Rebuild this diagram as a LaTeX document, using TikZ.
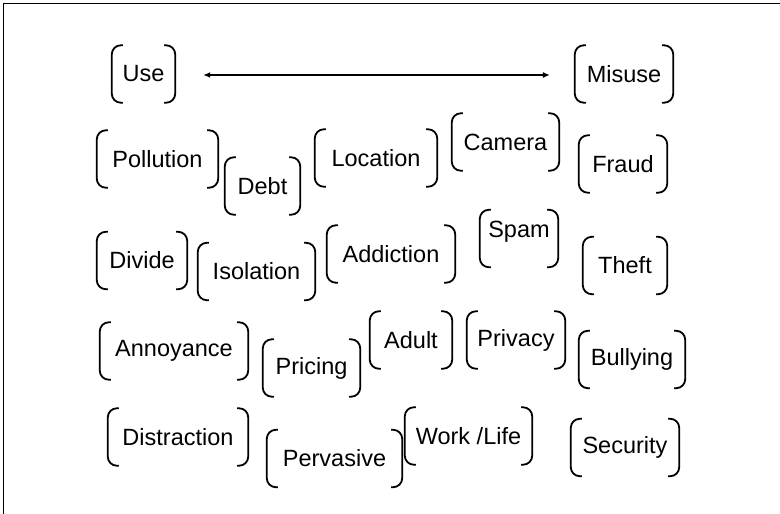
\documentclass[tikz,border=0pt]{standalone}
\usepackage{fontspec}
\setmainfont{Liberation Sans}
\usetikzlibrary{arrows.meta}

\tikzset{
    item/.style={inner sep=0pt, minimum height=57pt, font=\fontsize{23.5}{28}\selectfont},
    brk/.style={line width=1.8pt, rounded corners=9pt},
}

\begin{document}
\begin{tikzpicture}[x=1pt, y=-1pt]
            \useasboundingbox (0,0) rectangle (780,514);
            \draw[line width=1.6pt] (3.5,530) -- (3.5,3.5) -- (795,3.5);

            \node[item, minimum width=63pt] (use) at (143.5,74) {Use};
            \node[item, minimum width=98pt] (misuse) at (624,74) {Misuse};

            \node[item, minimum width=121pt] (pollution) at (157.5,159) {Pollution};
            \node[item, minimum width=75pt] (debt) at (262.5,186) {Debt};
            \node[item, minimum width=122pt] (location) at (376,158) {Location};
            \node[item, minimum width=107pt] (camera) at (505.5,142) {Camera};
            \node[item, minimum width=88pt] (fraud) at (623,164) {Fraud};

            \node[item, minimum width=90pt] (divide) at (142,260.5) {Divide};
            \node[item, minimum width=117pt] (isolation) at (256.5,271.5) {Isolation};
            \node[item, minimum width=128pt] (addiction) at (391,254) {Addiction};
            \node[item, minimum width=78pt, text depth=19pt] (spam) at (519,238.5) {Spam};
            \node[item, minimum width=84pt] (theft) at (625,265.5) {Theft};

            \node[item, minimum width=148pt] (annoyance) at (174,351) {Annoyance};
            \node[item, minimum width=97pt] (pricing) at (311.5,368) {Pricing};
            \node[item, minimum width=82pt] (adult) at (411,340) {Adult};
            \node[item, minimum width=98pt] (privacy) at (516,340) {Privacy};
            \node[item, minimum width=106pt] (bullying) at (632,359.5) {Bullying};

            \node[item, minimum width=140pt] (distraction) at (178,437) {Distraction};
            \node[item, minimum width=135pt] (pervasive) at (334.5,458.5) {Pervasive};
            \node[item, minimum width=127pt] (worklife) at (468.5,436) {Work /Life};
            \node[item, minimum width=108pt] (security) at (625,447.5) {Security};

            \foreach \n in {use,misuse,pollution,debt,location,camera,fraud,divide,isolation,addiction,spam,theft,annoyance,pricing,adult,privacy,bullying,distraction,pervasive,worklife,security} {
                \draw[brk] ([xshift=11pt]\n.north west) -- (\n.north west) -- (\n.south west) -- ([xshift=11pt]\n.south west);
                \draw[brk] ([xshift=-11pt]\n.north east) -- (\n.north east) -- (\n.south east) -- ([xshift=-11pt]\n.south east);
            }

            \draw[line width=1.2pt, {Latex[length=7pt,width=6pt]}-{Latex[length=7pt,width=6pt]}, shorten <=28pt, shorten >=25pt] ([yshift=-1pt]use.east) -- ([yshift=-1pt]misuse.west);
        \end{tikzpicture}
\end{document}
